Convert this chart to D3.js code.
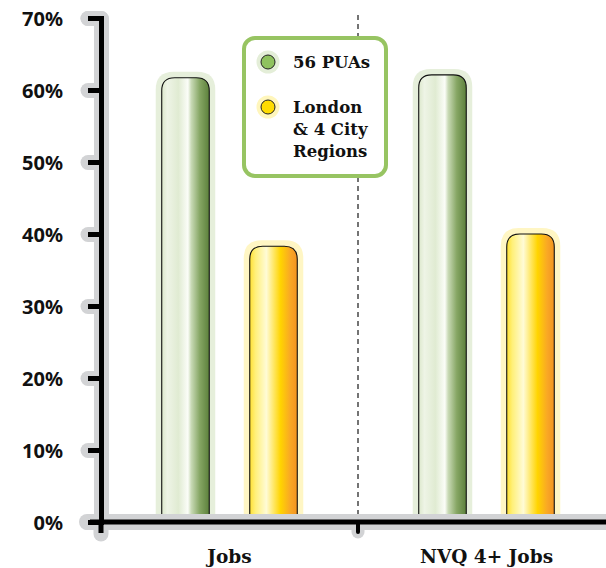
<!DOCTYPE html>
<html>
<head>
<meta charset="utf-8">
<script src="https://cdn.jsdelivr.net/npm/d3@7/dist/d3.min.js"></script>
<style>
  html, body { margin: 0; padding: 0; background: #fff; }
  svg { display: block; }
</style>
</head>
<body>
<svg id="chart" width="606" height="568"></svg>
<script>
// Share of jobs by area type
const categories = ["Jobs", "NVQ 4+ Jobs"];
const seriesNames = ["56 PUAs", "London & 4 City Regions"];
const puaValues = [61.7, 62.1];
const cityValues = [38.3, 40.0];
const yTicks = [0, 10, 20, 30, 40, 50, 60, 70];

const rows = categories.map((c, i) => ({
  category: c,
  values: [
    { key: seriesNames[0], value: puaValues[i] },
    { key: seriesNames[1], value: cityValues[i] }
  ]
}));

const svg = d3.select("#chart");
const axisX = 101, axisY = 522;

const y = d3.scaleLinear().domain([0, 70]).range([axisY, 18]);
const x0 = d3.scaleBand().domain(categories).range([axisX, 615]).padding(0);
const x1 = d3.scaleBand().domain(seriesNames).range([0, x0.bandwidth()])
  .paddingInner(0.46).paddingOuter(0.69);

const slab = "'DejaVu Serif', serif";
const sans = "'Noto Sans', 'Liberation Sans', sans-serif";

// Gradients for the glossy cylinders
const defs = svg.append("defs");
const gradStops = {
  green: [[0, "#dce8cc"], [0.12, "#eef4e6"], [0.35, "#e0ebd2"], [0.55, "#fbfdf8"], [0.62, "#c9dab6"], [0.8, "#86a664"], [1, "#5c803b"]],
  yellow: [[0, "#ffe033"], [0.12, "#fff07a"], [0.35, "#fffbd6"], [0.52, "#ffe55a"], [0.65, "#ffd400"], [0.85, "#f9a825"], [1, "#f39320"]]
};
Object.entries(gradStops).forEach(([id, stops]) => {
  const g = defs.append("linearGradient").attr("id", "grad-" + id)
    .attr("x1", "0%").attr("x2", "100%").attr("y1", "0%").attr("y2", "0%");
  stops.forEach(s => g.append("stop").attr("offset", s[0]).attr("stop-color", s[1]));
});
const seriesStyle = {
  [seriesNames[0]]: { fill: "url(#grad-green)", halo: "#e6efdb", dot: "#8fc25e", dotHalo: "#e4eed8" },
  [seriesNames[1]]: { fill: "url(#grad-yellow)", halo: "#fff6c4", dot: "#ffdc00", dotHalo: "#fff6bc" }
};

// rounded-top column outline
function topRounded(x, top, w, bottom, r) {
  r = Math.min(r, w / 2);
  return `M${x},${bottom}V${top + r}Q${x},${top} ${x + r},${top}H${x + w - r}Q${x + w},${top} ${x + w},${top + r}V${bottom}Z`;
}

// Dashed divider between the two groups
const divX = x0(categories[1]);
svg.append("line")
  .attr("x1", divX).attr("x2", divX).attr("y1", 15).attr("y2", axisY - 6)
  .attr("stroke", "#3a3a3a").attr("stroke-width", 1.4).attr("stroke-dasharray", "5,4");

// Bars
const groups = svg.append("g").selectAll("g").data(rows).join("g")
  .attr("transform", d => `translate(${x0(d.category)},0)`);

groups.selectAll("path.halo").data(d => d.values).join("path")
  .attr("class", "halo")
  .attr("d", d => topRounded(x1(d.key) - 6, y(d.value) - 6, x1.bandwidth() + 12, axisY, 18))
  .attr("fill", d => seriesStyle[d.key].halo);

groups.selectAll("path.bar").data(d => d.values).join("path")
  .attr("class", "bar")
  .attr("d", d => topRounded(x1(d.key), y(d.value), x1.bandwidth(), axisY, 13))
  .attr("fill", d => seriesStyle[d.key].fill)
  .attr("stroke", "#111").attr("stroke-width", 1.1);

// Y axis: grey underlay, then black line and ticks
const yAxis = d3.axisLeft(y).tickValues(yTicks).tickSize(13).tickSizeOuter(13)
  .tickPadding(25).tickFormat(d => d + "%");

const yUnder = svg.append("g").attr("transform", `translate(${axisX},0)`).call(yAxis);
yUnder.selectAll("text").remove();
yUnder.selectAll("path, line").attr("stroke", "#d2d3d5").attr("stroke-width", 15)
  .attr("stroke-linecap", "round").attr("stroke-linejoin", "round").attr("fill", "none");

// X axis underlay
const xAxis = d3.axisBottom(x0).tickSize(0).tickSizeOuter(0).tickPadding(0);
const xUnder = svg.append("g").attr("transform", `translate(0,${axisY})`).call(xAxis);
xUnder.selectAll("text").remove();
xUnder.select(".domain").attr("d", `M${axisX - 14},0H615`)
  .attr("stroke", "#d2d3d5").attr("stroke-width", 16).attr("stroke-linecap", "round");
svg.append("line").attr("x1", axisX).attr("x2", axisX).attr("y1", axisY).attr("y2", axisY + 12)
  .attr("stroke", "#d2d3d5").attr("stroke-width", 15).attr("stroke-linecap", "round");
svg.append("line").attr("x1", divX).attr("x2", divX).attr("y1", axisY).attr("y2", axisY + 10)
  .attr("stroke", "#d2d3d5").attr("stroke-width", 13).attr("stroke-linecap", "round");

// Black strokes on top
const yTop = svg.append("g").attr("transform", `translate(${axisX},0)`).call(yAxis);
yTop.select(".domain").attr("stroke", "#000").attr("stroke-width", 5).attr("fill", "none");
yTop.selectAll(".tick line").attr("stroke", "#000").attr("stroke-width", 5);
yTop.selectAll(".tick text")
  .attr("font-family", sans).attr("font-weight", 700).attr("font-size", 20)
  .attr("fill", "#111").attr("dy", "0.36em");

const xTop = svg.append("g").attr("transform", `translate(0,${axisY})`).call(xAxis);
xTop.select(".domain").attr("d", `M${axisX - 11},0H615`)
  .attr("stroke", "#000").attr("stroke-width", 5).attr("fill", "none");
xTop.selectAll(".tick text")
  .attr("y", 41).attr("dy", 0)
  .attr("font-family", slab).attr("font-weight", 700).attr("font-size", 18.5)
  .attr("fill", "#111");
svg.append("line").attr("x1", axisX).attr("x2", axisX).attr("y1", axisY).attr("y2", axisY + 11)
  .attr("stroke", "#000").attr("stroke-width", 5);
svg.append("line").attr("x1", divX).attr("x2", divX).attr("y1", axisY).attr("y2", axisY + 10)
  .attr("stroke", "#000").attr("stroke-width", 4).attr("stroke-linecap", "round");

// Legend
const legend = svg.append("g").attr("transform", "translate(244,38)");
legend.append("rect").attr("x", 0).attr("y", 0).attr("width", 142).attr("height", 138)
  .attr("rx", 11).attr("fill", "#fff").attr("stroke", "#97c462").attr("stroke-width", 4);

const legendLines = [["56 PUAs"], ["London", "& 4 City", "Regions"]];
const legendRowY = [24, 69];
seriesNames.forEach((name, i) => {
  const st = seriesStyle[name];
  const row = legend.append("g").attr("transform", `translate(0,${legendRowY[i]})`);
  row.append("circle").attr("cx", 24).attr("cy", 0).attr("r", 11.5).attr("fill", st.dotHalo);
  row.append("circle").attr("cx", 24).attr("cy", 0).attr("r", 7).attr("fill", st.dot)
    .attr("stroke", "#222").attr("stroke-width", 1);
  const t = row.append("text").attr("x", 49).attr("y", 6)
    .attr("font-family", slab).attr("font-weight", 700).attr("font-size", 16.5).attr("fill", "#111");
  legendLines[i].forEach((ln, j) => {
    t.append("tspan").attr("x", 49).attr("dy", j === 0 ? 0 : 22).text(ln);
  });
});
</script>
</body>
</html>
